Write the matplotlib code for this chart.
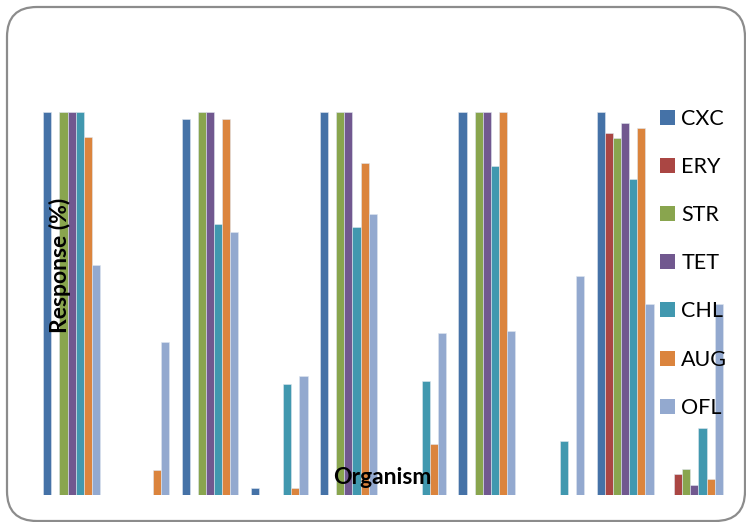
import numpy as np
import matplotlib
matplotlib.use('Agg')
import matplotlib.pyplot as plt
from matplotlib.patches import FancyBboxPatch, Patch

plt.rcParams['font.family'] = ['Lato', 'DejaVu Sans']

organisms = ['Org 1', 'Org 2', 'Org 3', 'Org 4', 'Org 5',
             'Org 6', 'Org 7', 'Org 8', 'Org 9', 'Org 10']
antibiotics = ['CXC', 'ERY', 'STR', 'TET', 'CHL', 'AUG', 'OFL']

# response (%) per antibiotic, one value per organism
cxc = [100, 0, 98.1, 1.7, 100, 0, 100, 0, 100, 0]
ery = [0, 0, 0, 0, 0, 0, 0, 0, 94.4, 5.4]
strep = [100, 0, 100, 0, 100, 0, 100, 0, 93.1, 6.7]
tet = [100, 0, 100, 0, 100, 0, 100, 0, 97.2, 2.6]
chl = [100, 0, 70.8, 29.0, 69.9, 29.8, 85.9, 14.1, 82.4, 17.4]
aug = [93.4, 6.5, 98.1, 1.7, 86.8, 13.3, 100, 0, 95.7, 4.1]
ofl = [60.1, 39.9, 68.7, 31.2, 73.4, 42.2, 42.8, 57.2, 49.8, 50.0]

colors = ['#4572A7', '#AA4643', '#89A54E', '#71588F', '#4198AF', '#DB843D', '#93A9CF']
series = [cxc, ery, strep, tet, chl, aug, ofl]

fig = plt.figure(figsize=(7.46, 5.22), dpi=100)

# rounded chart-area border, kept behind the axes
frame = FancyBboxPatch((7 / 746, 1 / 522), 738 / 746, 514 / 522,
                       boxstyle='round,pad=0,rounding_size=0.04',
                       transform=fig.transFigure, facecolor='white',
                       edgecolor='#8c8c8c', linewidth=1.6,
                       mutation_aspect=746 / 522, zorder=-5)
fig.patches.append(frame)

ax = fig.add_axes([37 / 746, 27 / 522, 692 / 746, 383 / 522])
ax.set_facecolor('none')

x = np.arange(len(organisms))
w = 0.117
for i, (vals, c) in enumerate(zip(series, colors)):
    ax.bar(x + (i - 3) * w, vals, width=w, color=c,
           edgecolor='#dfe6ef', linewidth=0.4)

ax.set_xlim(-0.5, len(organisms) - 0.5)
ax.set_ylim(0, 100)
ax.axis('off')

fig.text(60 / 746, 1 - 265 / 522, 'Response (%)', rotation=90,
         ha='center', va='center', fontsize=16.5, fontweight='bold')
fig.text(382 / 746, 1 - 477 / 522, 'Organism',
         ha='center', va='center', fontsize=16.5, fontweight='bold')

handles = [Patch(facecolor=c, edgecolor='none') for c in colors]
fig.legend(handles, antibiotics, loc='upper left',
           bbox_to_anchor=(651 / 746, 1 - 100 / 522), frameon=False,
           fontsize=15.5, handlelength=0.7, handleheight=0.7,
           handletextpad=0.3, labelspacing=1.31, borderaxespad=0)

fig.savefig('out.png', dpi=100)
